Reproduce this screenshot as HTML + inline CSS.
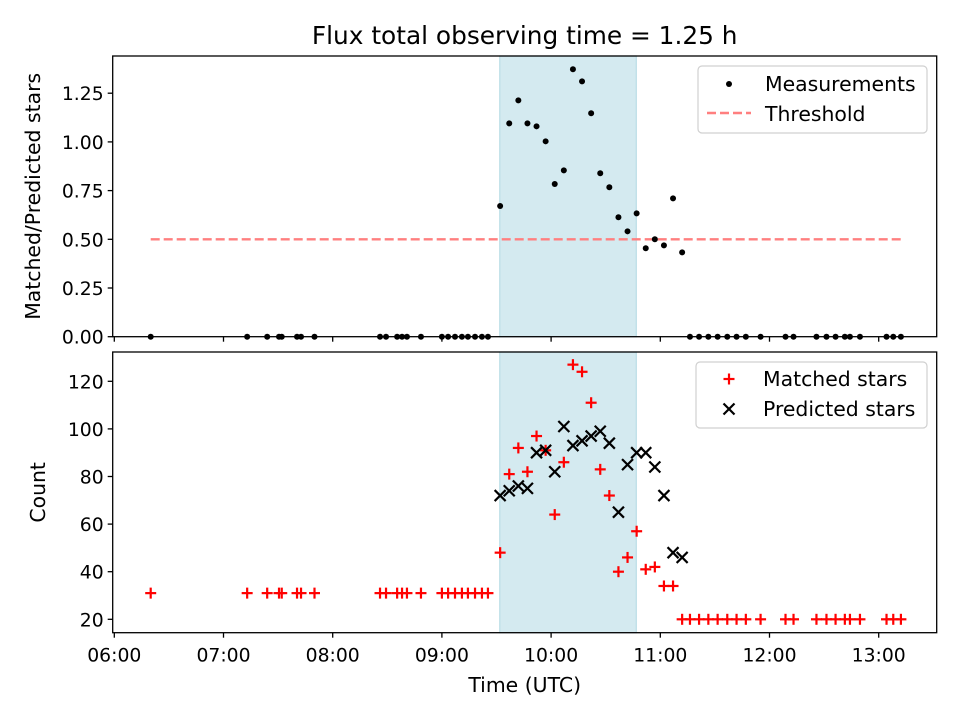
<!DOCTYPE html>
<html><head><meta charset="utf-8"><style>
body{margin:0;background:#fff}
svg{display:block;font-family:"DejaVu Sans","Liberation Sans",sans-serif}
</style></head><body>
<svg id="fig" width="960" height="720" viewBox="0 0 960 720"></svg>
<script>
// minutes since 06:00 (UTC)
const times = [20,73,84,90.5,92,100.4,102.6,110,146,149.3,155.4,158.1,160.8,168.5,180,183.4,187.2,191,194.3,198.2,202,205.3,
212,217,222,227,232,237,242,247,252,257,262,267,272,277,282,287,292,297,302,307,312,
316.3,321.3,326.4,331.5,336.8,341.9,347,355.1,368.8,373.2,385.8,391.3,396.3,401.4,404.2,409.7,424.3,428,432.2];
const ratio = [0,0,0,0,0,0,0,0,0,0,0,0,0,0,0,0,0,0,0,0,0,0,
0.671,1.095,1.213,1.095,1.080,1.003,0.784,0.854,1.373,1.311,1.147,0.839,0.767,0.613,0.541,0.633,0.454,0.5,0.469,0.710,0.433,
0,0,0,0,0,0,0,0,0,0,0,0,0,0,0,0,0,0,0];
const matched = [31,31,31,31,31,31,31,31,31,31,31,31,31,31,31,31,31,31,31,31,31,31,
48,81,92,82,97,91,64,86,127,124,111,83,72,40,46,57,41,42,34,34,20,
20,20,20,20,20,20,20,20,20,20,20,20,20,20,20,20,20,20,20];
const predicted = [null,null,null,null,null,null,null,null,null,null,null,null,null,null,null,null,null,null,null,null,null,null,
72,74,76,75,90,91,82,101,93,95,97,99,94,65,85,90,90,84,72,48,46,
null,null,null,null,null,null,null,null,null,null,null,null,null,null,null,null,null,null,null];
const threshold = 0.5;
const windowSpan = [211.8, 286.8];
const xTickLabels = ["06:00","07:00","08:00","09:00","10:00","11:00","12:00","13:00"];
const topTicks = [0,0.25,0.5,0.75,1.0,1.25];
const botTicks = [20,40,60,80,100,120];

const NS="http://www.w3.org/2000/svg";
const svg=document.getElementById('fig');
function el(tag,attrs,parent,text){const e=document.createElementNS(NS,tag);for(const k in attrs)e.setAttribute(k,attrs[k]);if(text!==undefined)e.textContent=text;(parent||svg).appendChild(e);return e;}
const L=112.7,R=936.7;
const xs=m=>114.3+m*109.2/60;
const T={top:56,bot:336.7}, B={top:352,bot:632.7};
const yt=v=>336.7-v*194.8;
const yb=v=>666.9-v*2.38;
const FS=20.4, TFS=18.8;

// title
const title=el('text',{x:524.7,y:44,'text-anchor':'middle','font-size':24.8,fill:'#000'},svg,'Flux total observing time = 1.25 h');


function panel(box,name,ticks,yf,fmt,ylabel,ylx){
  const g=el('g',{});
  
  const sp=el('rect',{x:xs(windowSpan[0]),y:box.top,width:xs(windowSpan[1])-xs(windowSpan[0]),height:box.bot-box.top,fill:'#d4eaf0',stroke:'#b9dde6','stroke-width':1.2},g);
  
  const yg=el('g',{},g);
  ticks.forEach(v=>{const y=yf(v);el('line',{x1:L-5,x2:L,y1:y,y2:y,stroke:'#000','stroke-width':1.3},yg);
    const t=el('text',{x:L-9,y:y+7,'text-anchor':'end','font-size':TFS},yg,fmt(v));});
  const xg=el('g',{},g);
  xTickLabels.forEach((s,i)=>{const x=xs(i*60);el('line',{x1:x,x2:x,y1:box.bot,y2:box.bot+5,stroke:'#000','stroke-width':1.3},xg);});
  const yl=el('text',{x:ylx,y:(box.top+box.bot)/2,'text-anchor':'middle','font-size':FS,transform:`rotate(-90 ${ylx} ${(box.top+box.bot)/2})`},g,ylabel);
  
  return g;
}
const gt=panel(T,'top-ratio-panel',topTicks,yt,v=>v.toFixed(2),'Matched/Predicted stars',40);
const gb=panel(B,'bottom-count-panel',botTicks,yb,v=>String(v),'Count',45);

const th=el('line',{x1:xs(times[0]),x2:xs(times[times.length-1]),y1:yt(threshold),y2:yt(threshold),stroke:'#ff7f7f','stroke-width':2.4,'stroke-dasharray':'9,4'},gt);

times.forEach((m,i)=>{const c=el('circle',{cx:xs(m),cy:yt(ratio[i]),r:3,fill:'#000'},gt);
  });
function plus(x,y,p,col){const g=el('g',{stroke:col,'stroke-width':2.2},p);el('line',{x1:x-5.5,x2:x+5.5,y1:y,y2:y},g);el('line',{x1:x,x2:x,y1:y-5.5,y2:y+5.5},g);return g;}
function cross(x,y,p){const g=el('g',{stroke:'#000','stroke-width':2.2},p);el('line',{x1:x-5.5,x2:x+5.5,y1:y-5.5,y2:y+5.5},g);el('line',{x1:x-5.5,x2:x+5.5,y1:y+5.5,y2:y-5.5},g);return g;}
times.forEach((m,i)=>{const g=plus(xs(m),yb(matched[i]),gb,'#ff0000');
  });
times.forEach((m,i)=>{if(predicted[i]==null)return;const g=cross(xs(m),yb(predicted[i]),gb);
  });

[T,B].forEach((b,k)=>{const r=el('rect',{x:L,y:b.top,width:R-L,height:b.bot-b.top,fill:'none',stroke:'#000','stroke-width':1.3});
  });
xTickLabels.forEach((s,i)=>{const t=el('text',{x:xs(i*60),y:661.5,'text-anchor':'middle','font-size':TFS},svg,s);
  });
const xl=el('text',{x:524.7,y:692,'text-anchor':'middle','font-size':FS},svg,'Time (UTC)');


const lg1=el('g',{});
el('rect',{x:698,y:66,width:229,height:67,rx:4,fill:'#fff','fill-opacity':0.8,stroke:'#d0d0d0','stroke-width':1.2},lg1);
el('circle',{cx:729,cy:84,r:3,fill:'#000'},lg1);
const e1=el('text',{x:765,y:91,'font-size':FS},lg1,'Measurements');
el('line',{x1:707,x2:751,y1:113,y2:113,stroke:'#ff7f7f','stroke-width':2.4,'stroke-dasharray':'9,4'},lg1);
const e2=el('text',{x:765,y:121,'font-size':FS},lg1,'Threshold');

const lg2=el('g',{});
el('rect',{x:696,y:362,width:231,height:66,rx:4,fill:'#fff','fill-opacity':0.8,stroke:'#d0d0d0','stroke-width':1.2},lg2);
plus(729,379,lg2,'#ff0000');
const e3=el('text',{x:763,y:386,'font-size':FS},lg2,'Matched stars');
cross(729,409,lg2);
const e4=el('text',{x:763,y:416,'font-size':FS},lg2,'Predicted stars');
</script>
</body></html>
